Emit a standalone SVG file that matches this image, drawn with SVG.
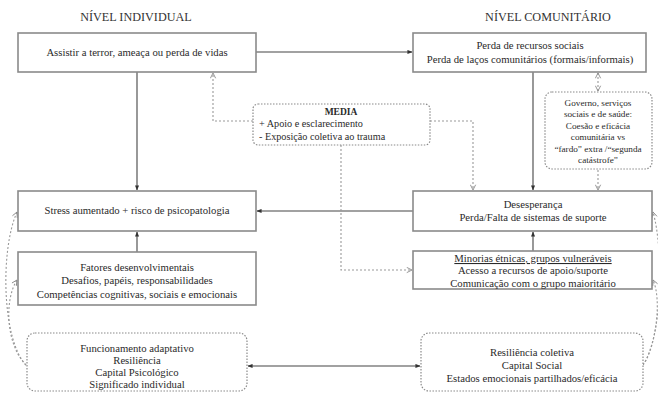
<svg xmlns="http://www.w3.org/2000/svg" width="658" height="394" viewBox="0 0 658 394">
<defs>
<marker id="solid" viewBox="0 0 6 6" refX="5.5" refY="3" markerWidth="5" markerHeight="5" orient="auto-start-reverse" markerUnits="userSpaceOnUse">
<path d="M0,0.5 L6,3 L0,5.5 Z" fill="#333"/>
</marker>
<marker id="open" viewBox="0 0 8 8" refX="7" refY="4" markerWidth="7" markerHeight="7" orient="auto-start-reverse" markerUnits="userSpaceOnUse">
<path d="M1,1 L7,4 L1,7" fill="none" stroke="#888" stroke-width="1"/>
</marker>
</defs>
<style>
text{font-family:"Liberation Serif","Times New Roman",serif;fill:#2a2a2a;font-size:10.7px;text-anchor:middle}
.title{font-size:12.2px;fill:#333}
.box{fill:#fff;stroke:#8a8a8a;stroke-width:1.6}
.dbox{fill:#fff;stroke:#8a8a8a;stroke-width:1.2;stroke-dasharray:1.5,1.5}
.sl{fill:none;stroke:#444;stroke-width:1.1}
.dl{fill:none;stroke:#999;stroke-width:1.1;stroke-dasharray:2,2}
.small{font-size:9.2px}
.med{font-size:10.2px}
</style>
<rect width="658" height="394" fill="#fff"/>
<text class="title" x="136" y="21">NÍVEL INDIVIDUAL</text>
<text class="title" x="548" y="21">NÍVEL COMUNITÁRIO</text>

<g id="connectors">
<line class="sl" x1="256" y1="52" x2="412" y2="52" marker-end="url(#solid)"/>
<line class="sl" x1="137" y1="72" x2="137" y2="190" marker-end="url(#solid)"/>
<line class="sl" x1="137" y1="252" x2="137" y2="232" marker-end="url(#solid)"/>
<line class="sl" x1="533" y1="72" x2="533" y2="190" marker-end="url(#solid)"/>
<line class="sl" x1="533" y1="251" x2="533" y2="232" marker-end="url(#solid)"/>
<line class="sl" x1="413" y1="211" x2="257" y2="211" marker-end="url(#solid)"/>
<line class="sl" x1="248" y1="366" x2="420" y2="366" marker-start="url(#solid)" marker-end="url(#solid)"/>
<path class="dl" d="M253,121 H213 V73" marker-end="url(#open)"/>
<path class="dl" d="M430,121 H473 V190" marker-end="url(#open)"/>
<path class="dl" d="M341,145 V270 H412" marker-end="url(#open)"/>
<line class="dl" x1="598" y1="73" x2="598" y2="91" marker-start="url(#open)" marker-end="url(#open)"/>
<line class="dl" x1="598" y1="170" x2="598" y2="190" marker-end="url(#open)"/>
<path class="dl" d="M26,365 C2,340 0,250 17,212" marker-end="url(#open)"/>
<path class="dl" d="M26,365 C6,345 4,300 17,280" marker-end="url(#open)"/>
<path class="dl" d="M643,365 C662,340 664,250 653,212" marker-end="url(#open)"/>
<path class="dl" d="M643,365 C656,345 662,300 653,280" marker-end="url(#open)"/>
</g>

<g id="assistir">
<rect class="box" x="18" y="33" width="238" height="39"/>
<text x="137" y="56">Assistir a terror, ameaça ou perda de vidas</text>
</g>
<g id="perda-recursos">
<rect class="box" x="413" y="33" width="233" height="39"/>
<text x="530" y="49">Perda de recursos sociais</text>
<text x="530" y="63">Perda de laços comunitários (formais/informais)</text>
</g>
<g id="media">
<rect class="dbox" x="253" y="104" width="177" height="41" rx="5"/>
<text class="med" x="341" y="115" style="font-weight:bold;font-size:9.5px">MEDIA</text>
<text class="med" x="259" y="127" style="text-anchor:start">+ Apoio e esclarecimento</text>
<text class="med" x="259" y="140" style="text-anchor:start">- Exposição coletiva ao trauma</text>
</g>
<g id="governo">
<rect class="dbox" x="545" y="92" width="107" height="77" rx="7"/>
<text class="small" x="598" y="106">Governo, serviços</text>
<text class="small" x="598" y="117">sociais e de saúde:</text>
<text class="small" x="598" y="129">Coesão e eficácia</text>
<text class="small" x="598" y="140">comunitária vs</text>
<text class="small" x="598" y="152">“fardo” extra /“segunda</text>
<text class="small" x="598" y="163">catástrofe”</text>
</g>
<g id="stress">
<rect class="box" x="18" y="191" width="238" height="40"/>
<text x="137" y="214">Stress aumentado + risco de psicopatologia</text>
</g>
<g id="desesperanca">
<rect class="box" x="413" y="191" width="239" height="40"/>
<text x="533" y="208">Desesperança</text>
<text x="533" y="221">Perda/Falta de sistemas de suporte</text>
</g>
<g id="fatores">
<rect class="box" x="18" y="252" width="238" height="53"/>
<text x="137" y="271">Fatores desenvolvimentais</text>
<text x="137" y="284">Desafios, papéis, responsabilidades</text>
<text x="137" y="298">Competências cognitivas, sociais e emocionais</text>
</g>
<g id="minorias">
<rect class="box" x="413" y="251" width="239" height="38"/>
<text x="533" y="262" style="text-decoration:underline">Minorias étnicas, grupos vulneráveis</text>
<text x="533" y="274">Acesso a recursos de apoio/suporte</text>
<text x="533" y="287">Comunicação com o grupo maioritário</text>
</g>
<g id="funcionamento">
<rect class="dbox" x="27" y="333" width="220" height="58" rx="8"/>
<text x="137" y="352">Funcionamento adaptativo</text>
<text x="137" y="364">Resiliência</text>
<text x="137" y="376">Capital Psicológico</text>
<text x="137" y="388">Significado individual</text>
</g>
<g id="resiliencia-coletiva">
<rect class="dbox" x="421" y="333" width="222" height="58" rx="8"/>
<text x="532" y="356">Resiliência coletiva</text>
<text x="532" y="369">Capital Social</text>
<text x="532" y="382">Estados emocionais partilhados/eficácia</text>
</g>
</svg>
